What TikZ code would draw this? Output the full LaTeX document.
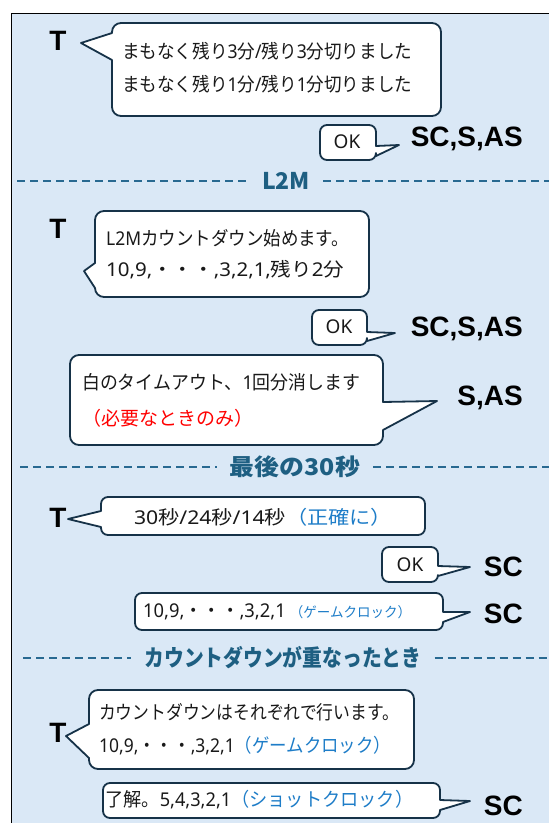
\documentclass[tikz,border=0pt]{standalone}
\usepackage{fontspec}
\setmainfont{Noto Sans CJK JP}
\newfontfamily\latb{Liberation Sans Bold}
\newfontfamily\numf{Noto Sans}
\definecolor{bg}{RGB}{218,232,246}
\definecolor{edge}{RGB}{22,50,72}
\definecolor{headc}{RGB}{30,95,130}
\definecolor{dashc}{RGB}{40,105,145}
\definecolor{bluet}{RGB}{30,125,200}
\definecolor{txt}{RGB}{25,25,25}
\newcommand\br{9}
\newcommand\tw[2]{\resizebox{#1pt}{\height}{#2}}
% left-tail bubble: x1 yt x2 yb tailtop tipx tipy tailbot
\newcommand\bubL[8]{%
 \draw[bubble] ({#1+\br},-#2) -- ({#3-\br},-#2) arc[start angle=90,end angle=0,radius=\br]
  -- (#3,{-#4+\br}) arc[start angle=0,end angle=-90,radius=\br]
  -- ({#1+\br},-#4) arc[start angle=270,end angle=180,radius=\br]
  -- (#1,-#8) -- (#6,-#7) -- (#1,-#5)
  -- (#1,{-#2-\br}) arc[start angle=180,end angle=90,radius=\br] -- cycle;}
% right-tail bubble: x1 yt x2 yb tailtop tipx tipy tailbot
\newcommand\bubR[8]{%
 \draw[bubble] ({#1+\br},-#2) -- ({#3-\br},-#2) arc[start angle=90,end angle=0,radius=\br]
  -- (#3,-#5) -- (#6,-#7) -- (#3,-#8)
  -- (#3,{-#4+\br}) arc[start angle=0,end angle=-90,radius=\br]
  -- ({#1+\br},-#4) arc[start angle=270,end angle=180,radius=\br]
  -- (#1,{-#2-\br}) arc[start angle=180,end angle=90,radius=\br] -- cycle;}
\tikzset{
 bubble/.style={draw=edge, fill=white, line width=1.8pt, line join=round},
 role/.style={font=\latb\fontsize{28}{30}\selectfont, inner sep=0pt, text=black},
 msg/.style={font=\fontsize{19}{22}\selectfont, inner sep=0pt, anchor=west, text=txt},
 oktxt/.style={font=\numf\fontsize{19}{22}\selectfont, inner sep=0pt, text=txt},
 head/.style={font=\bfseries\fontsize{23}{26}\selectfont, text=headc, inner xsep=13pt, inner ysep=0pt},
 hline/.style={draw=dashc, line width=2.4pt, dash pattern=on 8pt off 5pt}
}
\begin{document}
\begin{tikzpicture}[x=1pt,y=1pt]
\useasboundingbox (0,0) rectangle (549,-823);
\fill[white] (0,0) rectangle (549,-823);
\fill[bg] (12,-13) rectangle (549,-823);
\draw[black, line width=1.8pt] (11.5,-823) -- (11.5,-13.5) -- (549,-13.5);

% ---- section 1
\node[role, anchor=base] (T1) at (58,-50) {T};
\bubL{112}{23}{441}{116}{33}{81}{43}{60}
\node[msg] (m1a) at (122,-51) {\tw{290}{まもなく残り{\numf 3}分{\numf /}残り{\numf 3}分切りました}};
\node[msg] (m1b) at (122,-84) {\tw{290}{まもなく残り{\numf 1}分{\numf /}残り{\numf 1}分切りました}};
\def\br{7}
\bubR{320}{125}{376}{160}{146}{399}{145}{156}
\node[oktxt] (ok1) at (347,-142) {OK};
\node[role, anchor=base east] (sc1) at (523,-146) {SC,S,AS};

% ---- heading L2M
\node[head] (h1) at (286,-181) {\tw{48}{L2M}};
\coordinate (h1l) at (17,-181);
\coordinate (h1r) at (549,-181);
\draw[hline] (h1l) -- (h1.west);
\draw[hline] (h1.east) -- (h1r);

\node[role, anchor=base] (T2) at (58,-238) {T};
\def\br{9}
\bubL{95}{211}{369}{297}{263}{84}{271}{288}
\node[msg] (m2a) at (106,-238) {\tw{243}{{\numf L2M}カウントダウン始めます。}};
\node[msg] (m2b) at (106,-270) {\tw{238}{{\numf 10,9,}・・・{\numf ,3,2,1,}残り{\numf 2}分}};
\def\br{7}
\bubR{312}{310}{367}{345}{332}{395}{333}{341}
\node[oktxt] (ok2) at (339,-327) {OK};
\node[role, anchor=base east] (sc2) at (523,-336) {SC,S,AS};

\def\br{9}
\bubR{70}{355}{383}{445}{402}{437}{401}{430}
\node[msg] (m3a) at (82,-382) {\tw{278}{白のタイムアウト、{\numf 1}回分消します}};
\node[msg, text=red] (m3b) at (82,-418) {（必要なときのみ）};
\node[role, anchor=base east] (sc3) at (523,-405) {S,AS};

% ---- heading last 30 s
\node[head] (h2) at (295,-467) {\tw{130}{最後の30秒}};
\coordinate (h2l) at (20,-467);
\coordinate (h2r) at (549,-467);
\draw[hline] (h2l) -- (h2.west);
\draw[hline] (h2.east) -- (h2r);

\node[role, anchor=base] (T3) at (58,-527) {T};
\def\br{7}
\bubL{101}{497}{425}{535}{511}{68}{519}{527}
\node[msg, anchor=center] (m4) at (263,-517) {\tw{258}{{\numf 30}秒{\numf /24}秒{\numf /14}秒\textcolor{bluet}{（正確に）}}};
\bubR{382}{547}{438}{582}{566}{470}{567}{576}
\node[oktxt] (ok3) at (410,-565) {OK};
\node[role, anchor=base east] (sc4) at (523,-576) {SC};
\bubR{135}{593}{443}{630}{612}{470}{612}{622}
\node[msg] (m5) at (143,-612) {\tw{268}{{\numf 10,9,}・・・{\numf ,3,2,1} {\fontsize{14}{16}\selectfont\color{bluet}（ゲームクロック）}}};
\node[role, anchor=base east] (sc5) at (523,-623) {SC};

% ---- heading overlap
\node[head] (h3) at (283,-658) {\tw{277}{カウントダウンが重なったとき}};
\coordinate (h3l) at (23,-658);
\coordinate (h3r) at (549,-658);
\draw[hline] (h3l) -- (h3.west);
\draw[hline] (h3.east) -- (h3r);

\node[role, anchor=base] (T4) at (58,-742) {T};
\def\br{9}
\bubL{89}{690}{414}{769}{724}{66}{736}{758}
\node[msg] (m6a) at (99,-712) {\tw{300}{カウントダウンはそれぞれで行います。}};
\node[msg] (m6b) at (99,-746) {\tw{292}{{\numf 10,9,}・・・{\numf ,3,2,1}\textcolor{bluet}{（ゲームクロック）}}};
\def\br{7}
\bubR{103}{783}{440}{818}{800}{470}{801}{810}
\node[msg] (m7) at (105,-800) {\tw{308}{了解。{\numf 5,4,3,2,1}\textcolor{bluet}{（ショットクロック）}}};
\node[role, anchor=base east] (sc6) at (523,-815) {SC};
\end{tikzpicture}
\end{document}
